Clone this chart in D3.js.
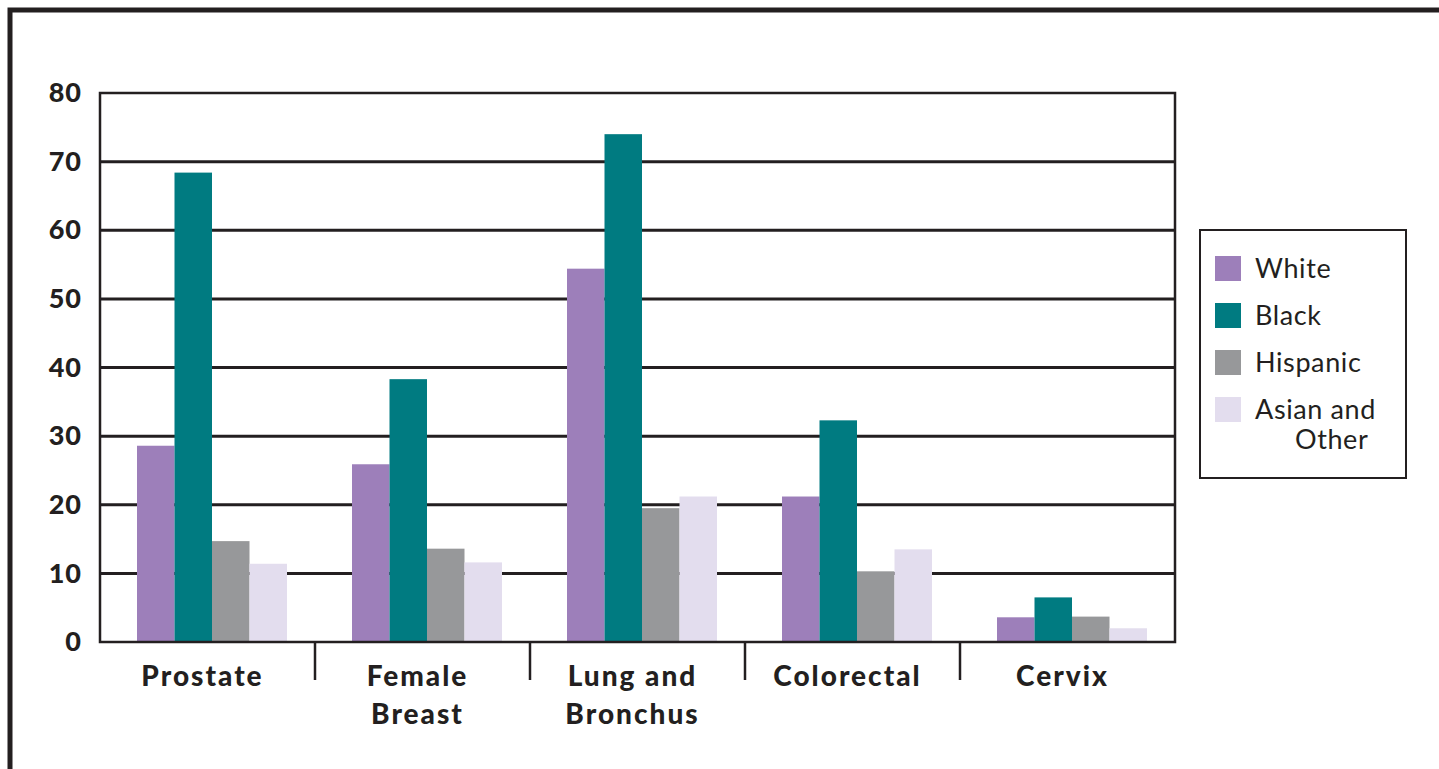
<!DOCTYPE html>
<html>
<head>
<meta charset="utf-8">
<script src="https://cdn.jsdelivr.net/npm/d3@7"></script>
<style>
  body { margin: 0; background: #fff; }
  svg { display: block; }
  text { font-family: Lato, "Open Sans", sans-serif; fill: #231f20; }
</style>
</head>
<body>
<svg id="chart" width="1439" height="769"></svg>
<script>
// categories and series
const categories = [['Prostate'], ['Female', 'Breast'], ['Lung and', 'Bronchus'], ['Colorectal'], ['Cervix']];
const seriesNames = ['White', 'Black', 'Hispanic', 'Asian and Other'];
const white    = [28.6, 25.9, 54.4, 21.2, 3.6];
const black    = [68.4, 38.3, 74.0, 32.3, 6.5];
const hispanic = [14.7, 13.6, 19.5, 10.3, 3.7];
const asian    = [11.4, 11.6, 21.2, 13.5, 2.0];
const yTicks = [0, 10, 20, 30, 40, 50, 60, 70, 80];
const colors = ['#9d7fba', '#007b81', '#97989a', '#e3ddee'];

const values = [white, black, hispanic, asian];
const catKeys = categories.map(c => c.join(' '));

const svg = d3.select('#chart');
const ink = '#231f20';

// outer frame (only top and left edges are visible)
svg.append('path')
    .attr('d', 'M10,769 L10,10 L1439,10')
    .attr('fill', 'none')
    .attr('stroke', ink)
    .attr('stroke-width', 5);

const plot = { left: 100, right: 1175, top: 93, bottom: 642 };

const x0 = d3.scaleBand()
    .domain(catKeys)
    .range([plot.left, plot.right]);

const x1 = d3.scaleBand()
    .domain(seriesNames)
    .range([37, 187]);

const y = d3.scaleLinear()
    .domain([0, 80])
    .range([plot.bottom, plot.top]);

// gridlines
svg.append('g')
    .selectAll('line')
    .data(yTicks.filter(t => t > 0 && t < 80))
    .join('line')
    .attr('x1', plot.left)
    .attr('x2', plot.right)
    .attr('y1', d => y(d))
    .attr('y2', d => y(d))
    .attr('stroke', ink)
    .attr('stroke-width', 3);

// bars
const groups = svg.append('g')
    .selectAll('g')
    .data(catKeys)
    .join('g')
    .attr('transform', d => `translate(${x0(d)},0)`);

groups.selectAll('rect')
    .data((d, i) => seriesNames.map((s, j) => ({ s, v: values[j][i], c: colors[j] })))
    .join('rect')
    .attr('x', d => x1(d.s))
    .attr('width', x1.bandwidth())
    .attr('y', d => y(d.v))
    .attr('height', d => y(0) - y(d.v))
    .attr('fill', d => d.c);

// plot frame
svg.append('rect')
    .attr('x', plot.left)
    .attr('y', plot.top)
    .attr('width', plot.right - plot.left)
    .attr('height', plot.bottom - plot.top)
    .attr('fill', 'none')
    .attr('stroke', ink)
    .attr('stroke-width', 2.5);

// y axis labels
const yAxis = d3.axisLeft(y).tickValues(yTicks).tickSize(0).tickPadding(18);
const yg = svg.append('g')
    .attr('transform', `translate(${plot.left},0)`)
    .call(yAxis);
yg.select('.domain').remove();
yg.selectAll('text')
    .attr('font-size', 27)
    .attr('font-weight', 900)
    .attr('letter-spacing', 1)
    .attr('fill', ink)
    .attr('font-family', 'Lato, sans-serif');

// category separators below the axis
svg.append('g')
    .selectAll('line')
    .data(catKeys.slice(1))
    .join('line')
    .attr('x1', d => x0(d))
    .attr('x2', d => x0(d))
    .attr('y1', plot.bottom)
    .attr('y2', 680)
    .attr('stroke', ink)
    .attr('stroke-width', 2.5);

// category labels
const catLabels = svg.append('g')
    .selectAll('text')
    .data(categories)
    .join('text')
    .attr('x', (d, i) => x0(catKeys[i]) + x0.bandwidth() / 2 - 5)
    .attr('y', 686)
    .attr('text-anchor', 'middle')
    .attr('font-size', 28)
    .attr('font-weight', 900)
    .attr('letter-spacing', 2);
catLabels.selectAll('tspan')
    .data(d => d)
    .join('tspan')
    .attr('x', function () { return d3.select(this.parentNode).attr('x'); })
    .attr('dy', (d, i) => i === 0 ? 0 : 38)
    .text(d => d);

// legend
const legend = svg.append('g');
legend.append('rect')
    .attr('x', 1200)
    .attr('y', 230)
    .attr('width', 206)
    .attr('height', 248)
    .attr('fill', '#fff')
    .attr('stroke', ink)
    .attr('stroke-width', 2);

const legendLabels = [['White'], ['Black'], ['Hispanic'], ['Asian and', 'Other']];
const items = legend.selectAll('g.item')
    .data(seriesNames)
    .join('g')
    .attr('class', 'item')
    .attr('transform', (d, i) => `translate(1215,${256 + i * 47})`);

items.append('rect')
    .attr('width', 26)
    .attr('height', 25)
    .attr('fill', (d, i) => colors[i]);

items.append('text')
    .attr('x', 40)
    .attr('y', 22)
    .attr('font-size', 27)
    .attr('letter-spacing', 0.6)
    .selectAll('tspan')
    .data((d, i) => legendLabels[i])
    .join('tspan')
    .attr('x', (d, i) => i === 0 ? 40 : 80)
    .attr('dy', (d, i) => i === 0 ? 0 : 30)
    .text(d => d);
</script>
</body>
</html>
